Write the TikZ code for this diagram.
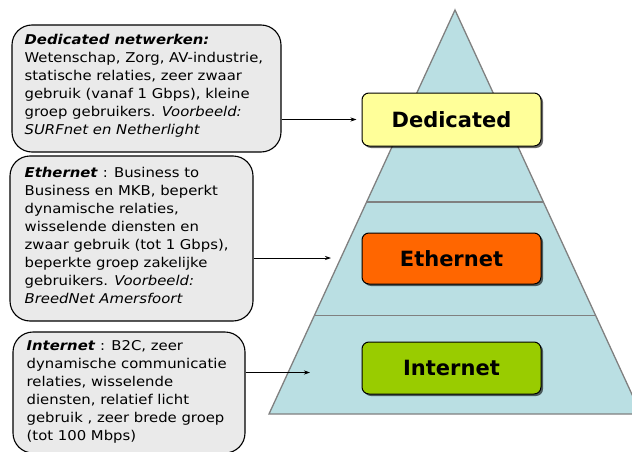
\documentclass[tikz,border=0pt]{standalone}
\usepackage{fontspec}
\setmainfont{DejaVu Sans}
\newfontfamily\infofont[FakeStretch=1.1]{DejaVu Sans}
\usetikzlibrary{shadows,arrows.meta,calc}
\definecolor{pyrfill}{HTML}{BADFE3}
\definecolor{pyredge}{HTML}{808080}
\definecolor{infogray}{HTML}{EAEAEA}
\definecolor{dedyellow}{HTML}{FFFF99}
\definecolor{ethorange}{HTML}{FF6600}
\definecolor{inetgreen}{HTML}{99CC00}
\tikzset{
  infobox/.style={draw=black, line width=1.1pt, fill=infogray, rounded corners=20pt, inner sep=0pt},
  infotext/.style={anchor=west, align=left, inner sep=0pt, font=\infofont\fontsize{13.5}{18}\selectfont},
  tier/.style={draw=black, line width=1pt, rounded corners=7pt, minimum width=179pt,
    font=\fontsize{21}{25}\selectfont\bfseries,
    drop shadow={shadow xshift=2pt, shadow yshift=-2pt, fill=black, opacity=0.6}},
  pointer/.style={-{Stealth[length=6pt,width=4pt]}, line width=0.8pt},
}
\begin{document}
\begin{tikzpicture}[x=1pt,y=-1pt]
\useasboundingbox (0,0) rectangle (632,452);

% pyramid with its three layers
\coordinate (apex) at (455,10);
\coordinate (bl) at (269,414);
\coordinate (br) at (641,414);
\begin{scope}
  \clip (0,0) rectangle (632,452);
  \fill[pyrfill] (apex) -- (bl) -- (br) -- cycle;
  \draw[pyredge, line width=1.3pt] ($(apex)!0.475!(bl)$) -- ($(apex)!0.475!(br)$);
  \draw[pyredge, line width=1.3pt] ($(apex)!0.757!(bl)$) -- ($(apex)!0.757!(br)$);
  \draw[pyredge, line width=1.3pt, line join=miter] (apex) -- (bl) -- (br) -- cycle;
\end{scope}

% tier labels
\node[tier, fill=dedyellow, minimum height=53pt] (ded) at (451.5,119.5) {Dedicated};
\node[tier, fill=ethorange, minimum height=51pt] (eth) at (451.5,258.5) {Ethernet};
\node[tier, fill=inetgreen, minimum height=52pt] (inet) at (451.5,368) {Internet};

% description boxes
\node[infobox, minimum width=269pt, minimum height=127pt] (b1) at (146.5,88.5) {};
\node[infotext] (t1) at ($(b1.west)+(13,-2.5)$) {%
  \textbf{\textit{Dedicated netwerken:}}\\
  Wetenschap, Zorg, AV-industrie,\\
  statische relaties, zeer zwaar\\
  gebruik (vanaf 1 Gbps), kleine\\
  groep gebruikers. \textit{Voorbeeld:}\\
  \textit{SURFnet en Netherlight}};

\node[infobox, minimum width=243pt, minimum height=165pt] (b2) at (131.5,238.5) {};
\node[infotext] (t2) at ($(b2.west)+(15,-3.5)$) {%
  \textbf{\textit{Ethernet}} : Business to\\
  Business en MKB, beperkt\\
  dynamische relaties,\\
  wisselende diensten en\\
  zwaar gebruik (tot 1 Gbps),\\
  beperkte groep zakelijke\\
  gebruikers. \textit{Voorbeeld:}\\
  \textit{BreedNet Amersfoort}};

\node[infobox, minimum width=232pt, minimum height=121pt] (b3) at (129,392.5) {};
\node[infotext] (t3) at ($(b3.west)+(14,-1)$) {%
  \textbf{\textit{Internet}} : B2C, zeer\\
  dynamische communicatie\\
  relaties, wisselende\\
  diensten, relatief licht\\
  gebruik , zeer brede groep\\
  (tot 100 Mbps)};

% pointers from the descriptions into the pyramid
\coordinate (ethTip) at (331,258);
\coordinate (inetTip) at (310,372.5);
\draw[pointer, shorten >=5pt] (b1.east |- ded.west) -- (ded.west);
\draw[pointer] (b2.east |- ethTip) -- (ethTip);
\draw[pointer] (b3.east |- inetTip) -- (inetTip);
\end{tikzpicture}
\end{document}
